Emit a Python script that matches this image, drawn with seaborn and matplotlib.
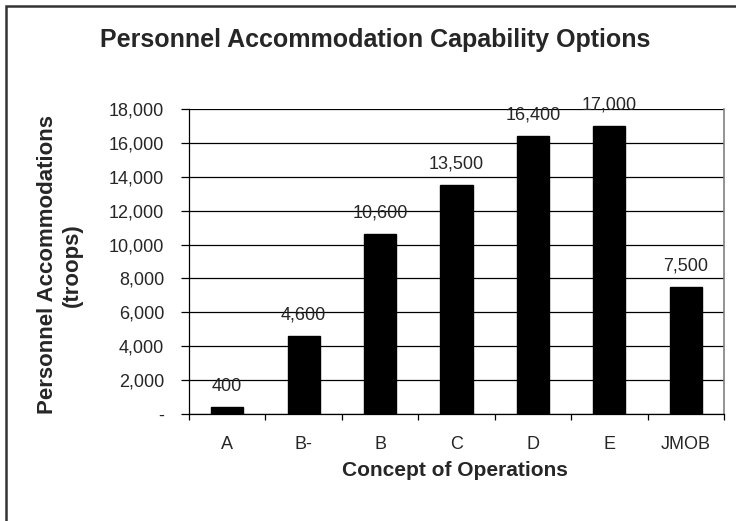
import matplotlib
matplotlib.use("Agg")
import matplotlib.pyplot as plt
import matplotlib.ticker as mticker
from matplotlib.patches import Rectangle
import seaborn as sns
import pandas as pd

# chart data
concepts = ["A", "B-", "B", "C", "D", "E", "JMOB"]
troops = [400, 4600, 10600, 13500, 16400, 17000, 7500]

df = pd.DataFrame({"Concept": concepts, "Troops": troops})

sns.set_style("white")
plt.rcParams['font.family'] = ['Liberation Sans', 'DejaVu Sans']

fig = plt.figure(figsize=(7.36, 5.21), dpi=100)
ax = fig.add_axes([189 / 736, 107 / 521, 535 / 736, 305 / 521])

sns.barplot(data=df, x="Concept", y="Troops", color="black", edgecolor="black",
            width=0.42, saturation=1, ax=ax)

ax.set_ylim(0, 18000)
ax.set_xlim(-0.5, len(concepts) - 0.5)
ax.set_yticks(range(0, 18001, 2000))
ax.yaxis.set_major_formatter(mticker.FuncFormatter(
    lambda v, p: "-" if v == 0 else f"{int(v):,}"))
ax.yaxis.grid(True, color="black", linewidth=0.9)
ax.set_axisbelow(True)

# category boundaries get the tick marks, centres get the labels
ax.set_xticks(range(len(concepts)))
ax.set_xticklabels(concepts)
ax.set_xticks([i - 0.5 for i in range(len(concepts) + 1)], minor=True)
ax.tick_params(axis="x", which="major", length=0, pad=16, labelsize=13)
ax.tick_params(axis="x", which="minor", length=4.5, width=0.9, color="black", direction="out", bottom=True)
ax.tick_params(axis="y", length=6, width=0.9, color="black", direction="out", left=True, labelsize=13, pad=12)

for s in ["left", "bottom"]:
    ax.spines[s].set_color("black")
    ax.spines[s].set_linewidth(0.9)
ax.spines["top"].set_visible(False)
ax.spines["right"].set_color("#808080")
ax.spines["right"].set_linewidth(1.2)

ax.set_xlabel("")
ax.set_ylabel("")

for i, v in enumerate(troops):
    ax.annotate(f"{v:,}", (i, v), xytext=(0, 9), textcoords="offset points",
                ha="center", va="bottom", fontsize=13)

fig.text(375 / 736, 1 - 40 / 521, "Personnel Accommodation Capability Options",
         ha="center", va="center", fontsize=18, fontweight="bold")
fig.text(60 / 736, 1 - 265 / 521, "Personnel Accommodations\n(troops)",
         ha="center", va="center", rotation=90, multialignment="center",
         fontsize=16, fontweight="bold", linespacing=1.25)
fig.text(455 / 736, 1 - 471 / 521, "Concept of Operations",
         ha="center", va="center", fontsize=15, fontweight="bold")

# outer chart frame (only left and top edges fall inside the image)
fig.patches.append(Rectangle((6 / 736, -0.2), 1.5, 1.2 - 6 / 521, transform=fig.transFigure,
                             fill=False, edgecolor="#333333", linewidth=1.8))

fig.savefig("out.png", dpi=100)
